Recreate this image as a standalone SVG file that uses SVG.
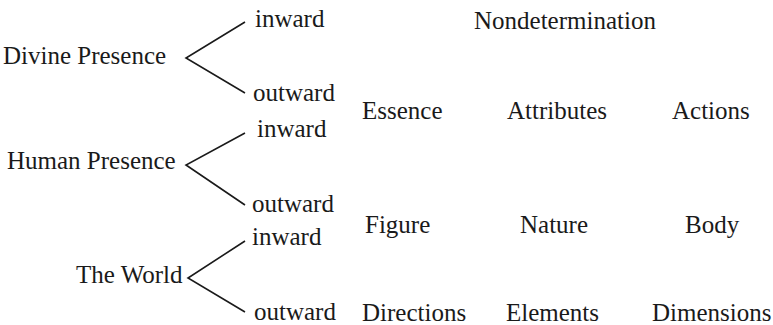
<svg xmlns="http://www.w3.org/2000/svg" width="773" height="325" viewBox="0 0 773 325">
<style>
text{font-family:"Liberation Serif","Times New Roman",serif;font-size:25px;fill:#1a1a1a}
.c{fill:none;stroke:#1a1a1a;stroke-width:1.6}
</style>
<rect width="773" height="325" fill="#fff"/>
<g id="connectors">
<polyline class="c" points="245,22 186,58 245,93"/>
<polyline class="c" points="245,133 186,165 245,205"/>
<polyline class="c" points="245,241 188,278 245,312"/>
</g>
<g id="divine"><text x="3" y="64">Divine Presence</text></g>
<g id="divine-in"><text x="255" y="27">inward</text></g>
<g id="divine-out"><text x="253" y="101">outward</text></g>
<g id="human"><text x="7" y="169">Human Presence</text></g>
<g id="human-in"><text x="257" y="137">inward</text></g>
<g id="human-out"><text x="252" y="212">outward</text></g>
<g id="world"><text x="76" y="283">The World</text></g>
<g id="world-in"><text x="252" y="245">inward</text></g>
<g id="world-out"><text x="254" y="320">outward</text></g>
<g id="nondetermination"><text x="474" y="29">Nondetermination</text></g>
<g id="essence"><text x="362" y="119">Essence</text></g>
<g id="attributes"><text x="507" y="119">Attributes</text></g>
<g id="actions"><text x="672" y="119">Actions</text></g>
<g id="figure"><text x="365" y="233">Figure</text></g>
<g id="nature"><text x="520" y="233">Nature</text></g>
<g id="body"><text x="685" y="233">Body</text></g>
<g id="directions"><text x="362" y="321">Directions</text></g>
<g id="elements"><text x="506" y="321">Elements</text></g>
<g id="dimensions"><text x="652" y="321">Dimensions</text></g>
</svg>
